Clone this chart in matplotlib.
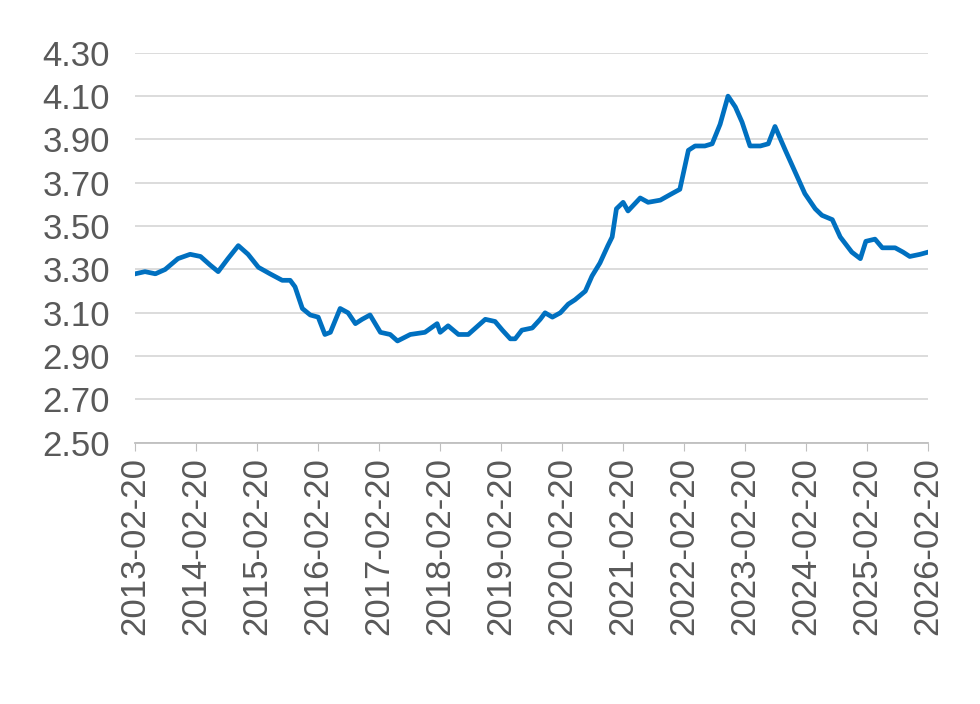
import matplotlib
matplotlib.use("Agg")
import matplotlib.pyplot as plt

# years elapsed since 2013-02-20
t = [0, .16, .33, .49, .70, .90, 1.07, 1.23, 1.36, 1.52, 1.69, 1.85, 2.02, 2.21, 2.41,
     2.54, 2.62, 2.74, 2.87, 3.00, 3.11, 3.20, 3.36, 3.49, 3.61, 3.72, 3.85, 4.02, 4.18,
     4.30, 4.51, 4.75, 4.95, 5.00, 5.13, 5.30, 5.46, 5.62, 5.74, 5.90, 6.02, 6.15, 6.23,
     6.34, 6.51, 6.64, 6.72, 6.84, 6.97, 7.10, 7.21, 7.38, 7.49, 7.62, 7.75, 7.82, 7.89,
     8.00, 8.08, 8.28, 8.41, 8.61, 8.80, 8.93, 9.07, 9.18, 9.34, 9.46, 9.59, 9.72, 9.84,
     9.95, 10.08, 10.25, 10.38, 10.49, 10.66, 10.82, 10.98, 11.15, 11.26, 11.43, 11.56,
     11.75, 11.89, 11.98, 12.13, 12.25, 12.46, 12.59, 12.70, 12.87, 13.00]
values = [3.28, 3.29, 3.28, 3.30, 3.35, 3.37, 3.36, 3.32, 3.29, 3.35, 3.41, 3.37, 3.31, 3.28, 3.25,
          3.25, 3.22, 3.12, 3.09, 3.08, 3.00, 3.01, 3.12, 3.10, 3.05, 3.07, 3.09, 3.01, 3.00,
          2.97, 3.00, 3.01, 3.05, 3.01, 3.04, 3.00, 3.00, 3.04, 3.07, 3.06, 3.02, 2.98, 2.98,
          3.02, 3.03, 3.07, 3.10, 3.08, 3.10, 3.14, 3.16, 3.20, 3.27, 3.33, 3.41, 3.45, 3.58,
          3.61, 3.57, 3.63, 3.61, 3.62, 3.65, 3.67, 3.85, 3.87, 3.87, 3.88, 3.97, 4.10, 4.05,
          3.98, 3.87, 3.87, 3.88, 3.96, 3.85, 3.75, 3.65, 3.58, 3.55, 3.53, 3.45,
          3.38, 3.35, 3.43, 3.44, 3.40, 3.40, 3.38, 3.36, 3.37, 3.38]
tick_labels = [f"{y}-02-20" for y in range(2013, 2027)]
y_ticks = [2.50, 2.70, 2.90, 3.10, 3.30, 3.50, 3.70, 3.90, 4.10, 4.30]

plt.rcParams['font.family'] = ['Liberation Sans', 'DejaVu Sans']
fig = plt.figure(figsize=(9.8, 7.04), dpi=100)
ax = fig.add_axes([0.138, 0.371, 0.809, 0.554])

ax.plot(t, values, color='#0070C0', lw=3.4, solid_joinstyle='round')

ax.set_xlim(0, 13)
ax.set_ylim(2.50, 4.30)
ax.set_yticks(y_ticks)
ax.set_yticklabels([f"{v:.2f}" for v in y_ticks])
ax.set_xticks(range(len(tick_labels)))
ax.set_xticklabels(tick_labels, rotation=90)
ax.tick_params(axis='y', length=0, labelsize=25, labelcolor='#595959', pad=18)
ax.tick_params(axis='x', length=6, color='#BFBFBF', labelsize=25, labelcolor='#595959', pad=4)
ax.grid(axis='y', color='#D9D9D9', lw=1.3)
ax.set_axisbelow(True)
for s in ['top', 'right', 'left']:
    ax.spines[s].set_visible(False)
ax.spines['bottom'].set_color('#BFBFBF')
ax.spines['bottom'].set_linewidth(1.3)

fig.savefig('out.png', dpi=100)
